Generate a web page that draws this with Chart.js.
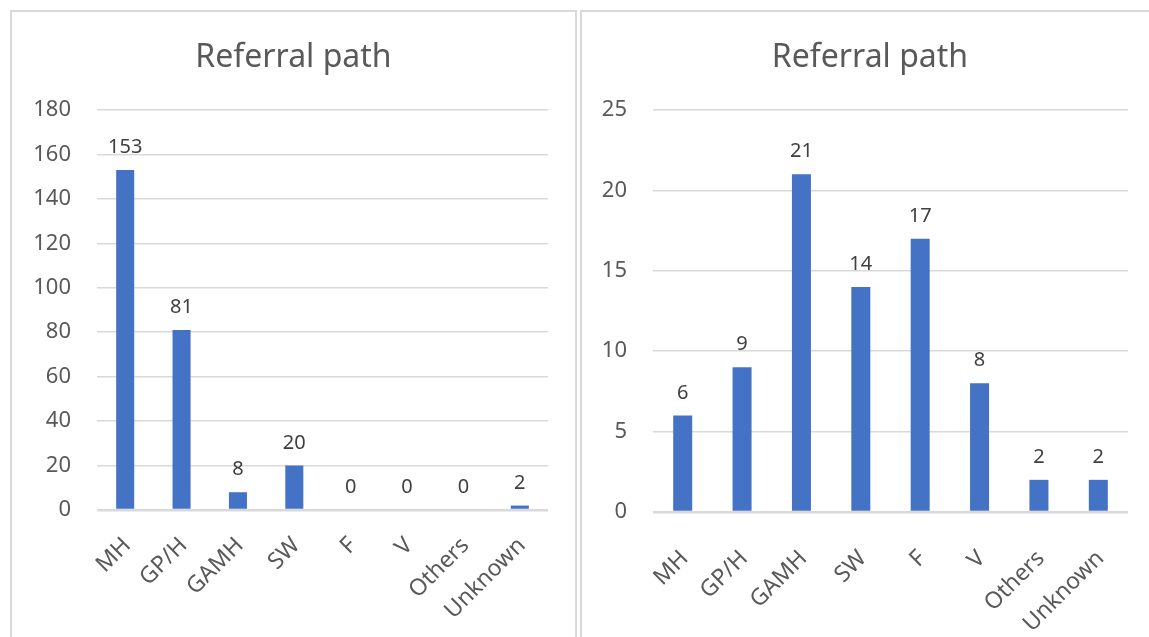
<!DOCTYPE html>
<html>
<head>
<meta charset="utf-8">
<script src="https://cdn.jsdelivr.net/npm/chart.js@4.4.0/dist/chart.umd.min.js"></script>
<style>
  html, body { margin: 0; padding: 0; background: #fff; overflow: hidden; }
  body { width: 1149px; height: 637px; position: relative; }
  .panel { position: absolute; top: 10px; border-top: 2px solid #d9d9d9; border-left: 2px solid #d9d9d9; box-sizing: content-box; overflow: hidden; }
  #leftPanel { left: 10px; width: 563px; height: 640px; border-right: 2px solid #d9d9d9; }
  #rightPanel { left: 580px; width: 580px; height: 640px; }
  canvas { display: block; }
</style>
</head>
<body>
<div class="panel" id="leftPanel"><canvas id="chartLeft" width="563" height="625"></canvas></div>
<div class="panel" id="rightPanel"><canvas id="chartRight" width="576" height="625"></canvas></div>
<script>
// dati
const categories = ["MH", "GP/H", "GAMH", "SW", "F", "V", "Others", "Unknown"];
const leftValues = [153, 81, 8, 20, 0, 0, 0, 2];
const rightValues = [6, 9, 21, 14, 17, 8, 2, 2];
const leftTicks = { max: 180, step: 20 };
const rightTicks = { max: 25, step: 5 };
const chartTitle = "Referral path";

const FONT = '"Noto Sans", "Open Sans", sans-serif';
const BAR = "#4472C4";
const TXT = "#595959";
const GRID = "#d9d9d9";

// etichette sopra le barre
const valueLabels = {
  id: "valueLabels",
  afterDatasetsDraw(chart) {
    const ctx = chart.ctx;
    const meta = chart.getDatasetMeta(0);
    const data = chart.data.datasets[0].data;
    ctx.save();
    ctx.font = "20px " + FONT;
    ctx.fillStyle = "#404040";
    ctx.textAlign = "center";
    ctx.textBaseline = "alphabetic";
    meta.data.forEach((bar, i) => {
      ctx.fillText(String(data[i]), bar.x, bar.y - 17);
    });
    ctx.restore();
  }
};

// titolo centrato su tutta la larghezza (non solo dentro il padding)
const fullTitle = {
  id: "fullTitle",
  afterLayout(chart) {
    const t = chart.titleBlock;
    if (!t) return;
    t.left = 0;
    t.right = chart.width;
    t.width = chart.width;
  }
};

function buildChart(id, values, ticks, yWidth, xHeight, rightPad, xPad) {
  const ctx = document.getElementById(id).getContext("2d");
  return new Chart(ctx, {
    type: "bar",
    data: {
      labels: categories,
      datasets: [{
        data: values,
        backgroundColor: BAR,
        borderWidth: 0,
        barPercentage: 0.32,
        categoryPercentage: 1
      }]
    },
    options: {
      responsive: false,
      animation: false,
      layout: { padding: { left: 0, right: rightPad, top: 0, bottom: 0 } },
      plugins: {
        legend: { display: false },
        tooltip: { enabled: false },
        title: {
          display: true,
          text: chartTitle,
          color: TXT,
          font: { family: FONT, size: 32, weight: "normal" },
          padding: { top: 27, bottom: 32.6 }
        }
      },
      scales: {
        x: {
          grid: { display: false, drawTicks: false },
          border: { display: false },
          ticks: {
            color: TXT,
            font: { family: FONT, size: 23 },
            minRotation: 45,
            maxRotation: 45,
            padding: xPad,
            labelOffset: 2
          },
          afterFit: s => { s.height = xHeight; }
        },
        y: {
          min: 0,
          max: ticks.max,
          grid: {
            color: GRID,
            lineWidth: c => (c.tick && c.tick.value === 0) ? 2.5 : 1.5,
            drawTicks: false
          },
          border: { display: false },
          ticks: {
            stepSize: ticks.step,
            color: TXT,
            font: { family: FONT, size: 22 },
            padding: 26
          },
          afterFit: s => { s.width = yWidth; }
        }
      }
    },
    plugins: [valueLabels, fullTitle]
  });
}

document.fonts.load('22px "Noto Sans"').finally(() => {
  buildChart("chartLeft", leftValues, leftTicks, 85, 127, 27, 22);
  buildChart("chartRight", rightValues, rightTicks, 71, 125, 30, 33);
});
</script>
</body>
</html>
